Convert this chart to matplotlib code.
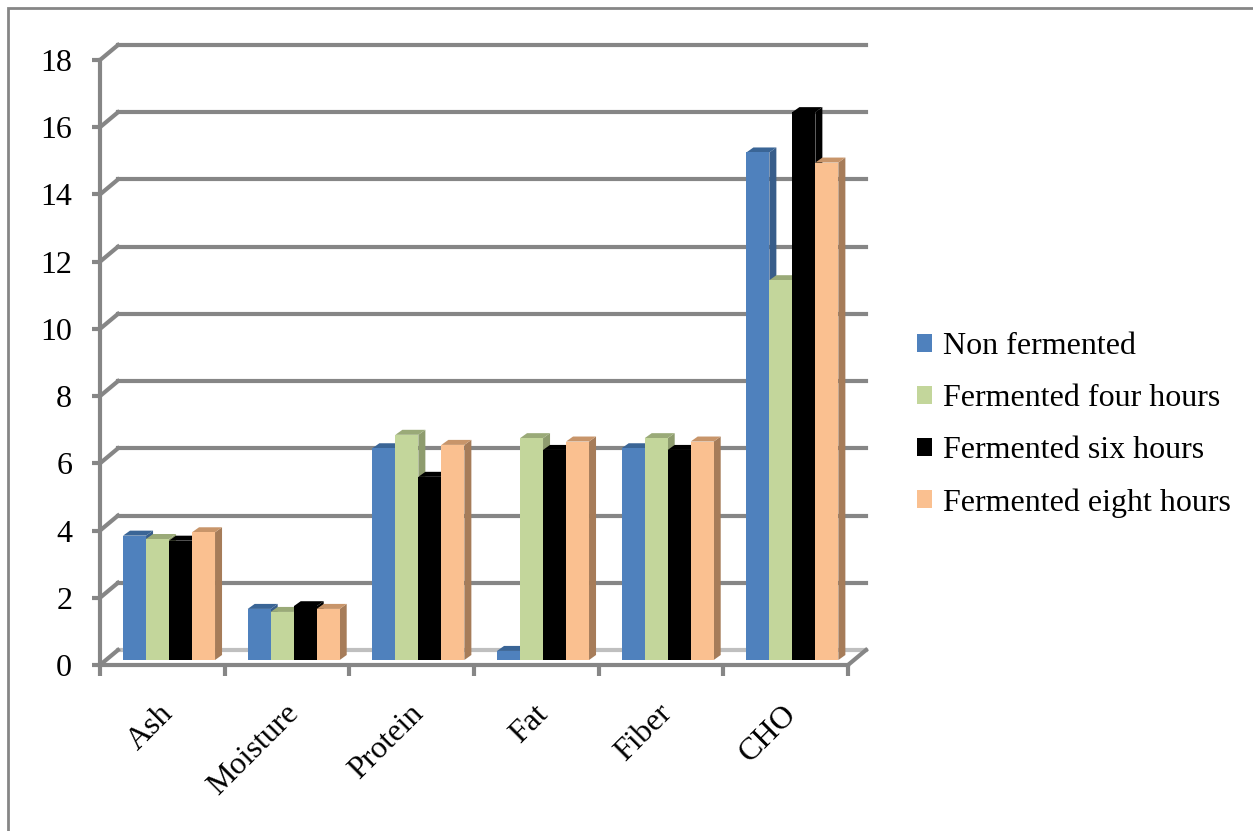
import matplotlib
matplotlib.use('Agg')
import matplotlib.pyplot as plt
from matplotlib.patches import Polygon, Patch, Rectangle
from matplotlib.transforms import ScaledTranslation

# datos
categorias = ['Ash', 'Moisture', 'Protein', 'Fat', 'Fiber', 'CHO']
series = ['Non fermented', 'Fermented four hours', 'Fermented six hours', 'Fermented eight hours']
non_fermented = [3.7, 1.52, 6.3, 0.27, 6.3, 15.1]
four_hours = [3.6, 1.43, 6.7, 6.6, 6.6, 11.3]
six_hours = [3.55, 1.6, 5.45, 6.25, 6.25, 16.3]
eight_hours = [3.8, 1.52, 6.4, 6.5, 6.5, 14.8]
valores = [non_fermented, four_hours, six_hours, eight_hours]

# colores estilo Excel: frente, arriba, lado
frente = ['#4F81BD', '#C3D69B', '#000000', '#FAC090']
arriba = ['#3A6596', '#9AAA78', '#000000', '#C8956A']
lado = ['#385D8A', '#8E9C6E', '#000000', '#A67C59']
gris = '#868686'

plt.rcParams['font.family'] = ['Liberation Serif', 'DejaVu Serif']

W, H = 1253, 831
fig = plt.figure(figsize=(W / 100, H / 100), dpi=100)
ax = fig.add_axes([100 / W, 166 / H, 748 / W, 605 / H])
ax.set_xlim(0, 6)
ax.set_ylim(0, 18)

px = 6 / 748   # unidades x por pixel
py = 18 / 605  # unidades y por pixel

# pared del fondo (desplazamiento 3D)
dxb, dyb = 18 * px, 15 * py
for v in range(0, 19, 2):
    c = '#BFBFBF' if v == 0 else gris
    ax.plot([dxb, 6 + dxb], [v + dyb, v + dyb], color=c, lw=3, clip_on=False, zorder=1)
    ax.plot([0, dxb], [v, v + dyb], color=gris, lw=3, clip_on=False, zorder=1)
ax.plot([6, 6 + dxb], [0, dyb], color=gris, lw=3, clip_on=False, zorder=1)

# barras con caras superior y lateral
ancho = 23 * px
bdx, bdy = 6.7 * px, 5 * py
ddx, ddy = 7 * px, 5 * py
for i in range(len(categorias)):
    for j, vals in enumerate(valores):
        x0 = i + 0.5 - 2 * ancho + j * ancho + bdx
        x1 = x0 + ancho
        b = bdy
        t = vals[i] + bdy
        z = 3 + i * 10 + j * 2
        ax.add_patch(Polygon([(x1, b), (x1, t), (x1 + ddx, t + ddy), (x1 + ddx, b + ddy)],
                             closed=True, fc=lado[j], ec='none', zorder=z, clip_on=False))
        ax.add_patch(Polygon([(x0, t), (x1, t), (x1 + ddx, t + ddy), (x0 + ddx, t + ddy)],
                             closed=True, fc=arriba[j], ec='none', zorder=z, clip_on=False))
        ax.add_patch(Rectangle((x0, b), ancho, t - b, fc=frente[j], ec='none',
                               zorder=z + 1, clip_on=False))

# ejes
for s in ['top', 'right']:
    ax.spines[s].set_visible(False)
for s in ['left', 'bottom']:
    ax.spines[s].set_color(gris)
    ax.spines[s].set_linewidth(3)
    ax.spines[s].set_zorder(100)
ax.set_yticks(range(0, 19, 2))
ax.tick_params(axis='y', length=6, width=3, color=gris, pad=14, labelsize=23)
ax.set_xticks(range(7))
ax.set_xticklabels([])
ax.tick_params(axis='x', which='major', length=8, width=3, color=gris)
ax.set_xticks([i + 0.5 for i in range(6)], minor=True)
ax.set_xticklabels(categorias, minor=True, rotation=45, ha='right', va='center',
                   rotation_mode='anchor', fontsize=23)
ax.tick_params(axis='x', which='minor', length=0, pad=32)
desplaza = ScaledTranslation(7 / 100, 0, fig.dpi_scale_trans)
for lab in ax.get_xticklabels(minor=True):
    lab.set_transform(lab.get_transform() + desplaza)

# leyenda
handles = [Patch(fc=c, ec='none') for c in frente]
fig.legend(handles, series, loc='center left', bbox_to_anchor=(904 / W, 1 - 425 / H),
           frameon=False, fontsize=23, handlelength=0.48, handleheight=0.48,
           handletextpad=0.33, labelspacing=0.72, borderaxespad=0)

# marco exterior
fig.patches.append(Rectangle((8 / W, -0.01), 1, 1 - 8 / H + 0.01, transform=fig.transFigure,
                             fill=False, ec=gris, lw=2))

fig.savefig('out.png', dpi=100)
